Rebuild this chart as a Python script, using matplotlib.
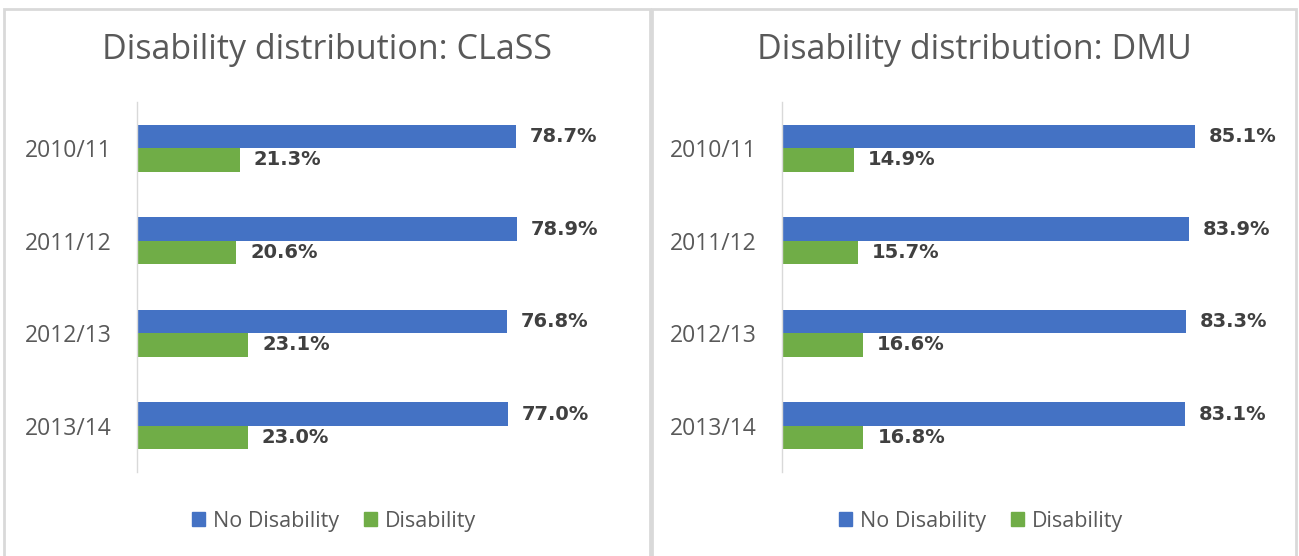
import matplotlib
matplotlib.use("Agg")
import matplotlib.pyplot as plt
from matplotlib.patches import Rectangle

years = ["2010/11", "2011/12", "2012/13", "2013/14"]
class_no_dis = [78.7, 78.9, 76.8, 77.0]
class_dis = [21.3, 20.6, 23.1, 23.0]
dmu_no_dis = [85.1, 83.9, 83.3, 83.1]
dmu_dis = [14.9, 15.7, 16.6, 16.8]
titles = ["Disability distribution: CLaSS", "Disability distribution: DMU"]
series_names = ["No Disability", "Disability"]

BLUE = "#4472C4"
GREEN = "#70AD47"
GRAY = "#595959"
DARK = "#404040"
BORDER = "#D9D9D9"

plt.rcParams['font.family'] = ['Open Sans', 'DejaVu Sans']

W, H = 1299, 556
fig = plt.figure(figsize=(W / 100, H / 100), dpi=100)

def fx(px):
    return px / W

def fy(py):
    return 1 - py / H

panels = [(4, 650), (652, 1296)]
axes_x = [(137, 619), (782, 1267)]
data = [(class_no_dis, class_dis), (dmu_no_dis, dmu_dis)]

for (p0, p1), (a0, a1), (nd, d), title in zip(panels, axes_x, data, titles):
    fig.patches.append(Rectangle((fx(p0), fy(H + 20)), fx(p1 - p0), fy(9) - fy(H + 20),
                                 transform=fig.transFigure, fill=False,
                                 edgecolor=BORDER, linewidth=2))
    ax = fig.add_axes([fx(a0), fy(472), fx(a1 - a0), (472 - 102) / H])
    pos = list(range(len(years)))
    h = 0.254
    b1 = ax.barh([p - h / 2 for p in pos], nd, height=h, color=BLUE)
    b2 = ax.barh([p + h / 2 for p in pos], d, height=h, color=GREEN)
    for bars, vals in ((b1, nd), (b2, d)):
        for bar, v in zip(bars, vals):
            ax.annotate(f"{v:.1f}%", (bar.get_width(), bar.get_y() + bar.get_height() / 2),
                        xytext=(10, 0), textcoords="offset points",
                        ha="left", va="center", fontsize=14, fontweight="bold",
                        color=DARK, family="DejaVu Sans")
    ax.set_xlim(0, 100)
    ax.set_ylim(3.5, -0.5)
    ax.set_yticks(pos)
    ax.set_yticklabels(years, fontsize=16.5, color=GRAY)
    ax.tick_params(axis="y", length=0, pad=18)
    ax.set_xticks([])
    for s in ("top", "right", "bottom"):
        ax.spines[s].set_visible(False)
    ax.spines["left"].set_color(BORDER)
    ax.spines["left"].set_linewidth(1)
    ax.patch.set_visible(False)

    cx = fx((p0 + p1) / 2)
    fig.text(cx, fy(50), title, ha="center", va="center", fontsize=24.5, color=GRAY)

    handles = [Rectangle((0, 0), 1, 1, color=BLUE), Rectangle((0, 0), 1, 1, color=GREEN)]
    fig.legend(handles, series_names, loc="center", bbox_to_anchor=(fx((p0 + p1) / 2 + 7), fy(521)),
               ncol=2, frameon=False, fontsize=15.5, labelcolor=GRAY,
               handlelength=0.6, handleheight=0.6, handletextpad=0.35, columnspacing=1.2)

fig.savefig("out.png", dpi=100)
